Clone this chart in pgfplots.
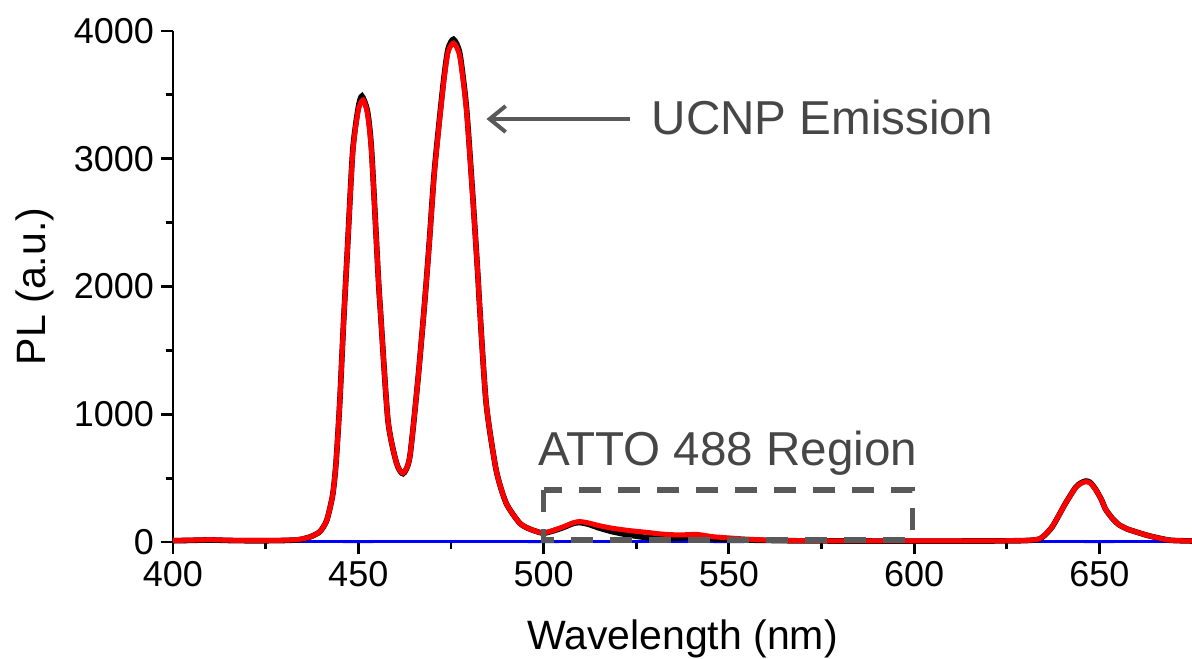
\documentclass[border=0pt]{standalone}
\usepackage{pgfplots}
\pgfplotsset{compat=1.18}
\usepackage{fontspec}
\setmainfont{Liberation Sans}
\usetikzlibrary{arrows.meta}
\definecolor{annot}{RGB}{89,89,89}
\definecolor{annottext}{RGB}{70,70,70}

\pgfplotstableread{
x y
400 12
405 15
410 18
415 14
420 12
425 12
430 14
434 20
437 40
439.6 80
441.5 170
443.1 370
444 620
445 1090
446 1700
447 2250
448.5 3045
450 3380
451.3 3460
452.5 3350
453.6 3045
455.4 2075
456 1800
458 955
460.3 620
462.1 540
463.9 665
466.1 1270
467.9 1870
469.2 2350
470.6 2910
472.9 3560
474.2 3830
475.7 3905
477.4 3800
479.2 3380
481 2650
482.3 2075
482.7 1870
484.5 1090
487.2 565
489.9 305
493.5 150
496 105
498.9 75
500 70
502 85
505 115
508 150
509.7 160
512 150
515 128
518.7 107
523 90
527.7 76
532 62
536.7 55
541.2 60
545.6 42
550 32
554.6 23
560 15
563.6 12
570 10
580 9
600 8
620 9
630 12
633.7 24
635.5 62
637.3 122
639 205
640.9 305
643.6 425
645 458
646.3 472
647.5 462
649 410
650.5 335
651.7 255
653.5 185
655.3 135
657.5 102
659.8 80
662 60
664.3 42
668.7 15
672 10
675 8
}\redtab

\pgfplotstableread{
x y
400 10
405 13
410 16
415 12
420 10
425 10
430 12
434 18
437 40
439.6 80
441.5 170
443.1 370
444 620
445 1090
446 1700
447 2250
448.5 3060
450 3400
451 3490
452.5 3370
453.6 3060
455.4 2075
456 1800
458 955
460.3 620
462.1 535
463.9 665
466.1 1270
467.9 1870
469.2 2360
470.6 2925
472.9 3580
474.2 3855
475.7 3935
477.4 3825
479.2 3400
481 2665
482.3 2075
482.7 1870
484.5 1090
487.2 565
489.9 305
493.5 150
496 105
498.9 75
500 68
502 82
505 110
508 145
509.7 152
512 140
515 110
518.7 80
523 55
527.7 35
532 28
536.7 30
541.2 40
545.6 25
550 18
554.6 15
560 13
563.6 11
570 9
580 8
600 7
620 8
630 11
633.7 22
635.5 60
637.3 120
639 205
640.9 305
643.6 428
645 462
646.3 477
647.5 467
649 412
650.5 335
651.7 255
653.5 185
655.3 135
657.5 102
659.8 80
662 60
664.3 42
668.7 15
672 10
675 8
}\blacktab

\pgfplotstableread{
x y
400 3
425 4
450 3
475 4
500 3
525 4
550 3
575 4
600 3
625 4
650 3
675 4
}\bluetab

\begin{document}
\begin{tikzpicture}
\begin{axis}[
  width=509.5pt, height=255.5pt, scale only axis,
  xmin=400, xmax=675, ymin=0, ymax=4000,
  axis x line=bottom, axis y line=left,
  axis line style={-, line width=1.4pt, black},
  clip=false,
  xtick={400,450,...,650}, ytick={0,1000,...,4000},
  minor xtick={425,475,...,625},
  minor ytick={500,1500,2500,3500},
  tick align=outside,
  major tick length=6pt, minor tick length=3.5pt,
  every tick/.style={black, line width=1.4pt},
  scaled y ticks=false,
  /pgf/number format/1000 sep={},
  /pgf/number format/assume math mode=true,
  tick label style={font=\fontsize{18}{21}\selectfont},
  xlabel={Wavelength (nm)}, ylabel={PL (a.u.)},
  every axis x label/.style={at={([yshift=-53.5pt]axis description cs:0.5,0)}, anchor=base, font=\fontsize{20.5}{24}\selectfont},
  every axis y label/.style={at={([xshift=-69pt]axis description cs:0,0.5)}, rotate=90, anchor=center, font=\fontsize{20.5}{24}\selectfont},
]
\addplot[blue, line width=1.4pt] table[x=x,y=y] {\bluetab};
\addplot[black, line width=2.8pt, smooth, tension=0.4] table[x=x,y=y] {\blacktab};
\addplot[red, line width=2.5pt, smooth, tension=0.4] table[x=x,y=y] {\redtab};

\draw[annot, line width=2.6pt, dash pattern=on 11pt off 8.5pt]
  (axis cs:500,407) rectangle (axis cs:599.5,15);
\draw[annot, line width=2pt, -{Straight Barb[length=8pt,width=13pt]}]
  (axis cs:523.2,3311) -- (axis cs:484.6,3311);
\node[annottext, anchor=base west, inner sep=0pt, font=\fontsize{23.8}{28}\selectfont]
  at (axis cs:529.1,3186) {UCNP Emission};
\node[annottext, anchor=base west, inner sep=0pt, font=\fontsize{23.8}{28}\selectfont]
  at (axis cs:498.4,595) {ATTO 488 Region};
\coordinate (O) at (rel axis cs:0,0);
\end{axis}
\pgfresetboundingbox
\path[use as bounding box] ([shift={(-86.5pt,-58pt)}]O) rectangle ([shift={(509.5pt,271pt)}]O);
\end{tikzpicture}
\end{document}
